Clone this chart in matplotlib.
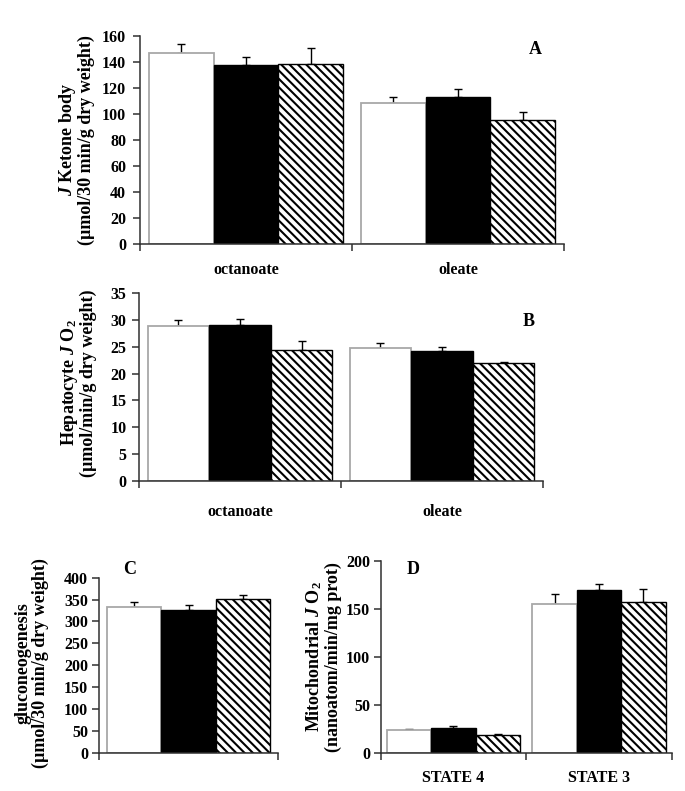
import matplotlib
matplotlib.use("Agg")
import matplotlib.pyplot as plt
import numpy as np

plt.rcParams['font.family'] = ['Liberation Serif', 'DejaVu Serif']
plt.rcParams['font.weight'] = 'bold'
plt.rcParams['mathtext.fontset'] = 'custom'
plt.rcParams['mathtext.rm'] = 'Liberation Serif:bold'
plt.rcParams['mathtext.it'] = 'Liberation Serif:italic:bold'
plt.rcParams['mathtext.bf'] = 'Liberation Serif:bold'
plt.rcParams['hatch.linewidth'] = 1.5

# ---------------- data ----------------
substrates = ["octanoate", "oleate"]
states = ["STATE 4", "STATE 3"]

ketone_white = [147.0, 108.2]
ketone_black = [137.4, 113.1]
ketone_hatch = [138.1, 95.4]
ketone_white_err = [6.5, 4.7]
ketone_black_err = [6.1, 6.5]
ketone_hatch_err = [13.0, 6.1]

o2_white = [28.8, 24.8]
o2_black = [29.1, 24.2]
o2_hatch = [24.35, 22.05]
o2_white_err = [1.15, 0.9]
o2_black_err = [1.05, 0.7]
o2_hatch_err = [1.65, 0.15]

gluco_white = [333.7]
gluco_black = [326.0]
gluco_hatch = [352.0]
gluco_white_err = [10.0]
gluco_black_err = [11.5]
gluco_hatch_err = [7.5]

mito_white = [24.0, 155.2]
mito_black = [26.4, 170.5]
mito_hatch = [19.4, 157.3]
mito_white_err = [0.8, 10.4]
mito_black_err = [1.7, 5.5]
mito_hatch_err = [0.7, 14.0]

A_yticks = [0, 20, 40, 60, 80, 100, 120, 140, 160]
B_yticks = [0, 5, 10, 15, 20, 25, 30, 35]
C_yticks = [0, 50, 100, 150, 200, 250, 300, 350, 400]
D_yticks = [0, 50, 100, 150, 200]

# ---------------- layout ----------------
W, H = 685, 791
fig = plt.figure(figsize=(W / 100, H / 100), dpi=100)


def axpos(l, r, top, bottom):
    return [l / W, 1 - bottom / H, (r - l) / W, (bottom - top) / H]


BW = 0.305
AX_COL = '#303030'


def draw_panel(ax, cats, white, black, hatch, werr, berr, herr, yticks,
               ypad, xlabpad, show_labels=True):
    n = len(white)
    x = np.arange(n)
    specs = [
        (x - BW, white, werr, dict(facecolor='white', edgecolor='#a8a8a8', linewidth=1.3)),
        (x, black, berr, dict(facecolor='black', edgecolor='black', linewidth=1.0)),
        (x + BW, hatch, herr, dict(facecolor='white', edgecolor='black', linewidth=1.0,
                                    hatch='\\\\\\\\')),
    ]
    for xs, vals, errs, st in specs:
        ax.bar(xs, vals, width=BW, zorder=2, **st)
        ax.errorbar(xs, vals, yerr=[np.zeros(n), errs], fmt='none',
                    ecolor='black', elinewidth=1.0, capsize=3.2, capthick=1.0,
                    zorder=1)
    ax.set_xlim(-0.5, n - 0.5)
    ax.set_ylim(yticks[0], yticks[-1])
    ax.set_yticks(yticks)
    ax.set_yticklabels([str(t) for t in yticks])
    ax.set_xticks(np.arange(-0.5, n, 1.0))
    ax.set_xticklabels([])
    if show_labels:
        ax.set_xticks(x, minor=True)
        ax.set_xticklabels(cats, minor=True)
    ax.tick_params(axis='x', which='minor', length=0, pad=xlabpad, labelsize=11.5)
    ax.tick_params(axis='x', which='major', length=5, width=1.1, color=AX_COL,
                   direction='out')
    ax.tick_params(axis='y', length=5, width=1.1, color=AX_COL, pad=ypad,
                   labelsize=11.5, direction='out')
    for s in ['top', 'right']:
        ax.spines[s].set_visible(False)
    for s in ['left', 'bottom']:
        ax.spines[s].set_color(AX_COL)
        ax.spines[s].set_linewidth(1.1)
    for lab in ax.get_xticklabels(minor=True) + ax.get_yticklabels():
        lab.set_fontweight('bold')


axA = fig.add_axes(axpos(140, 564, 36, 244))
draw_panel(axA, substrates, ketone_white, ketone_black, ketone_hatch,
           ketone_white_err, ketone_black_err, ketone_hatch_err, A_yticks,
           ypad=5, xlabpad=13)

axB = fig.add_axes(axpos(139, 543, 293.3, 480.7))
draw_panel(axB, substrates, o2_white, o2_black, o2_hatch,
           o2_white_err, o2_black_err, o2_hatch_err, B_yticks,
           ypad=4, xlabpad=17)

axC = fig.add_axes(axpos(99, 278, 577.7, 752.7))
draw_panel(axC, [""], gluco_white, gluco_black, gluco_hatch,
           gluco_white_err, gluco_black_err, gluco_hatch_err, C_yticks,
           ypad=3, xlabpad=12, show_labels=False)

axD = fig.add_axes(axpos(380.7, 671.7, 561.3, 753.3))
draw_panel(axD, states, mito_white, mito_black, mito_hatch,
           mito_white_err, mito_black_err, mito_hatch_err, D_yticks,
           ypad=2.5, xlabpad=12)


def ftext(x, y, s, **kw):
    fig.text(x / W, 1 - y / H, s, **kw)


LAB = dict(rotation=90, ha='center', va='center', fontsize=13,
           fontweight='bold', linespacing=1.0, multialignment='center')

ftext(76, 140, "$J$ Ketone body\n(µmol/30 min/g dry weight)", **LAB)
ftext(78, 383, "Hepatocyte $J$ O$_2$\n(µmol/min/g dry weight)", **LAB)
ftext(32, 663, "gluconeogenesis\n(µmol/30 min/g dry weight)", **LAB)
ftext(323, 657, "Mitochondrial $J$ O$_2$\n(nanoatom/min/mg prot)", **LAB)

PL = dict(ha='center', va='center', fontsize=13, fontweight='bold')
ftext(535, 49, "A", **PL)
ftext(529, 322, "B", **PL)
ftext(130, 570, "C", **PL)
ftext(413, 570, "D", **PL)

fig.savefig("out.png", dpi=100)
